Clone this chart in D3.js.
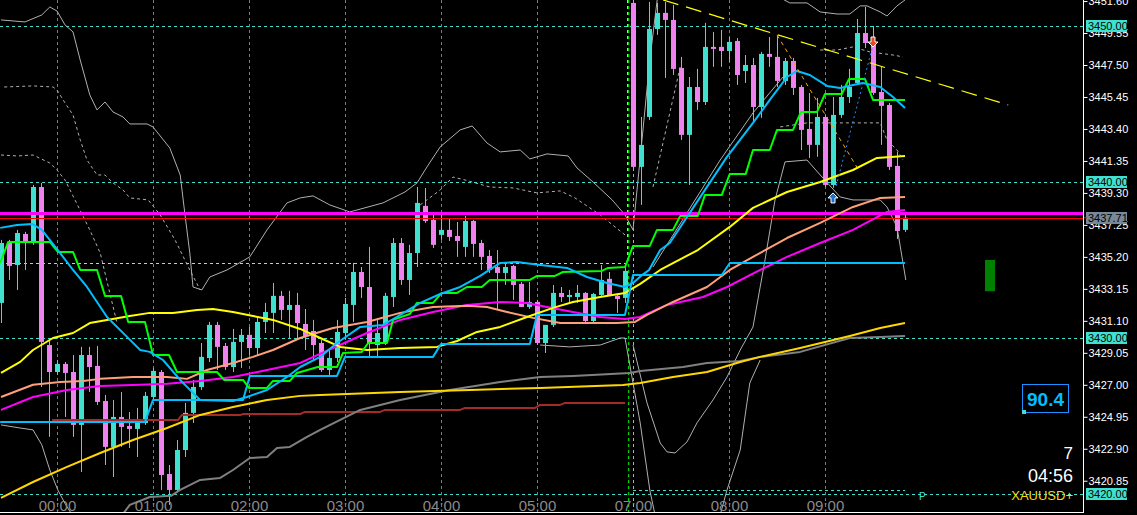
<!DOCTYPE html>
<html><head><meta charset="utf-8">
<script src="https://cdn.jsdelivr.net/npm/d3@7"></script>
<style>html,body{margin:0;padding:0;background:#000;overflow:hidden}</style>
</head><body><svg id="c" width="1137" height="515"></svg>
<script>
// ---------- DATA ----------
const candleOpen = [3432.25,3436.16,3434.68,3436.67,3436.22,3439.68,3429.55,3427.82,3428.34,3427.82,3424.43,3428.91,3428.21,3425.96,3423.02,3424.94,3424.36,3424.17,3424.55,3426.22,3427.82,3421.28,3420.26,3422.82,3425.20,3426.86,3428.72,3430.84,3429.49,3428.14,3429.75,3430.20,3429.36,3431.03,3431.61,3432.70,3431.80,3432.12,3430.90,3430.45,3429.68,3427.95,3428.72,3430.32,3432.12,3434.23,3433.27,3429.55,3429.68,3432.63,3436.09,3433.72,3435.45,3438.47,3437.57,3436.61,3436.93,3436.54,3435.84,3437.50,3436.09,3435.26,3434.55,3434.17,3434.62,3433.47,3431.99,3432.31,3429.68,3430.84,3432.89,3432.63,3432.63,3432.89,3431.09,3432.76,3433.79,3432.70,3432.57,3451.48,3440.97,3444.17,3449.81,3450.84,3450.39,3447.31,3443.02,3446.09,3445.13,3448.66,3448.66,3448.40,3449.04,3447.12,3447.50,3444.81,3448.21,3448.02,3446.48,3447.76,3446.09,3443.40,3442.38,3444.17,3439.81,3444.30,3445.45,3446.35,3449.55,3448.91,3445.77,3444.94,3441.03,3436.93];
const candleHigh = [3436.29,3436.29,3436.93,3436.80,3439.81,3439.94,3429.88,3428.59,3428.46,3428.91,3429.43,3429.43,3429.49,3426.35,3426.03,3426.54,3425.26,3425.52,3426.54,3428.08,3427.95,3421.86,3423.46,3425.84,3427.31,3429.68,3431.03,3431.03,3429.68,3430.58,3430.58,3430.71,3431.35,3432.25,3433.53,3433.02,3433.02,3432.89,3431.86,3431.16,3429.88,3429.23,3431.16,3432.57,3434.81,3434.55,3435.84,3431.16,3432.89,3436.41,3436.41,3435.97,3439.68,3439.62,3438.02,3438.02,3437.63,3437.44,3437.82,3437.57,3436.29,3435.64,3435.64,3434.81,3434.68,3433.59,3433.59,3432.44,3430.84,3433.40,3433.27,3433.08,3433.40,3432.95,3432.89,3434.68,3434.23,3432.82,3434.81,3451.90,3444.17,3451.54,3451.48,3451.54,3451.35,3448.02,3446.73,3447.25,3450.20,3449.62,3449.75,3449.30,3449.23,3448.14,3447.95,3448.34,3449.30,3449.36,3447.95,3447.95,3446.22,3445.71,3445.39,3444.30,3445.45,3446.22,3447.25,3450.45,3451.22,3450.00,3447.38,3445.07,3441.93,3437.89];
const candleLow = [3430.96,3433.72,3433.08,3434.36,3435.97,3426.86,3423.66,3427.63,3424.94,3423.66,3421.41,3426.54,3425.71,3421.86,3421.09,3423.02,3422.95,3422.37,3424.43,3426.03,3420.26,3419.30,3420.13,3422.37,3424.55,3426.67,3428.46,3427.95,3427.95,3427.82,3428.08,3428.91,3428.91,3430.32,3430.32,3431.16,3430.00,3429.88,3429.23,3428.59,3427.82,3427.63,3428.46,3429.88,3431.03,3432.57,3428.79,3428.79,3429.55,3431.99,3433.40,3432.76,3434.55,3437.38,3435.77,3436.29,3436.22,3435.20,3435.20,3435.20,3434.36,3434.17,3431.80,3433.40,3432.44,3431.99,3431.86,3429.55,3429.04,3430.71,3432.31,3432.31,3432.25,3431.03,3431.03,3432.70,3432.70,3431.61,3432.25,3440.77,3438.53,3443.98,3449.43,3446.67,3446.86,3442.70,3439.81,3444.62,3444.94,3447.38,3447.38,3447.70,3446.22,3446.35,3443.79,3444.11,3447.38,3446.09,3446.22,3445.58,3442.05,3441.54,3441.61,3439.68,3439.62,3444.11,3445.07,3446.22,3448.59,3445.58,3442.38,3440.77,3436.35,3436.80];
const candleClose = [3436.09,3434.62,3436.73,3436.22,3439.68,3429.75,3427.82,3428.34,3427.76,3424.43,3428.91,3428.14,3425.90,3423.02,3424.94,3424.30,3424.17,3424.55,3426.29,3427.89,3421.22,3420.26,3422.82,3425.20,3426.86,3428.79,3430.84,3429.43,3428.14,3429.75,3430.20,3429.36,3431.03,3431.67,3432.70,3431.80,3432.12,3430.96,3430.13,3429.55,3427.95,3428.72,3430.39,3432.18,3434.23,3433.27,3429.68,3430.32,3432.70,3436.09,3433.72,3435.45,3438.66,3437.50,3435.97,3436.93,3436.48,3436.22,3437.50,3436.03,3435.20,3434.36,3434.17,3434.55,3433.40,3431.99,3432.31,3429.68,3430.84,3432.89,3432.63,3432.76,3432.89,3431.09,3432.82,3433.72,3432.76,3432.50,3434.30,3440.97,3442.38,3449.81,3450.84,3450.39,3447.25,3443.02,3446.09,3445.13,3448.66,3448.53,3448.40,3448.98,3446.86,3447.50,3444.81,3448.21,3448.02,3446.48,3447.76,3446.03,3443.34,3442.38,3444.17,3439.81,3444.30,3445.45,3446.09,3449.55,3448.91,3445.71,3444.88,3440.97,3436.86,3437.71];

const timeLabels = ["00:00","01:00","02:00","03:00","04:00","05:00","07:00","08:00","09:00"];
const timeLabelIndex = [7,19,31,43,55,67,79,91,103];
const priceTicks = [3451.60,3449.55,3447.50,3445.45,3443.40,3441.35,3439.30,3437.25,3435.20,3433.15,3431.10,3429.05,3427.00,3424.95,3422.90,3420.85];
const levelLines = [3450.00,3440.00,3430.00,3420.00];
const bidPrice = 3437.71;
const magentaLevel = 3437.98;
const boxLevel = 3434.81;

// indicator lines: [candle index, price]
const emaFast = [[-0.1,3437.06],[2,3437.25],[3.9,3437.31],[5.1,3436.93],[7.1,3435.64],[9,3434.36],[10.75,3433.27],[13.25,3431.35],[15.75,3430.07],[17.4,3429.23],[18.6,3429.11],[20.25,3428.59],[22.4,3427.31],[24,3426.48],[24.9,3426.03],[29,3425.96],[30.75,3426.22],[33.25,3426.67],[35.75,3427.50],[37.4,3428.14],[39.9,3428.79],[42,3429.68],[44.9,3430.71],[47.75,3430.84],[49.5,3431.35],[52.4,3432.25],[54.9,3432.82],[57.4,3433.27],[59.9,3433.98],[62.4,3434.81],[64.5,3434.87],[67.4,3434.68],[70.75,3434.49],[73.25,3433.91],[75.75,3433.53],[78,3433.27],[79,3433.53],[80,3433.98],[81,3434.36],[82.4,3435.64],[83.6,3436.09],[87.75,3439.30],[90.75,3441.61],[94,3443.79],[96.1,3445.26],[98.25,3446.73],[99.5,3447.12],[101.1,3446.86],[103.25,3446.16],[104.9,3446.03],[106.5,3446.22],[107.75,3446.35],[109.9,3446.09],[111.5,3445.45],[113,3444.75]];
const kijunGreen = [[-0.1,3434.81],[0.9,3436.16],[6.1,3436.16],[7.1,3435.52],[9,3435.52],[9.9,3434.36],[12,3434.36],[13,3432.70],[15,3432.70],[15.9,3431.03],[18,3431.03],[19,3428.91],[21,3428.91],[22,3427.82],[27,3427.82],[27.9,3427.31],[30.25,3427.31],[31,3426.80],[33.25,3426.80],[34,3427.25],[36.1,3427.25],[37,3427.76],[39.6,3428.14],[42,3428.14],[42.75,3429.04],[45.1,3429.11],[45.9,3429.68],[48.25,3429.68],[49,3431.16],[51.1,3431.54],[52,3432.25],[54,3432.25],[55.1,3432.89],[57,3432.89],[58.25,3433.27],[60.1,3433.27],[61.1,3433.72],[66.1,3433.72],[67,3433.98],[69.25,3433.98],[70.25,3434.23],[75.1,3434.30],[75.9,3434.49],[78,3434.55],[79,3435.90],[81.1,3435.90],[82,3436.93],[84,3436.93],[84.9,3437.82],[87.1,3437.82],[88,3439.17],[90.1,3439.17],[91.1,3440.52],[93.1,3440.52],[94,3442.05],[96.1,3442.05],[97,3443.34],[99,3443.34],[100,3444.49],[102,3444.49],[103,3445.64],[105.1,3445.64],[106,3446.60],[108,3446.60],[109,3445.26],[113,3445.26]];
const maYellow = [[0,3427.76],[2.4,3428.47],[4,3429.23],[6.5,3430.00],[9,3430.32],[11.1,3430.96],[13.25,3431.16],[16.1,3431.41],[18.6,3431.61],[21.5,3431.61],[24.5,3431.80],[26.5,3431.86],[29,3431.67],[31.5,3431.41],[34,3431.16],[37.4,3430.58],[39.9,3430.00],[42.4,3429.43],[45.75,3429.23],[49.9,3429.36],[54.5,3429.43],[57,3429.81],[59.5,3430.39],[62.4,3430.71],[65.75,3431.35],[69,3431.93],[71.5,3432.31],[74.9,3432.63],[78,3432.89],[79.9,3433.47],[82.4,3434.36],[87.1,3435.64],[91.1,3437.12],[94,3438.34],[98.25,3439.36],[102.4,3440.00],[106.5,3440.77],[109.5,3441.54],[113,3441.67]];
const maSalmon = [[0,3426.22],[4,3427.00],[7.4,3427.18],[10.25,3427.25],[12.4,3427.38],[16.5,3427.50],[20.75,3427.50],[23.25,3427.38],[25.75,3427.95],[29,3428.40],[31.5,3428.79],[34,3429.23],[37.4,3430.00],[41.5,3430.64],[45.75,3431.03],[49.9,3431.61],[54,3431.99],[58.25,3432.06],[60.75,3431.99],[63.25,3431.67],[66.5,3431.29],[69.9,3430.96],[73.25,3430.96],[77,3430.96],[79.25,3431.03],[80.75,3431.48],[84,3432.31],[88.25,3433.27],[91.1,3434.36],[94,3435.20],[98.25,3436.41],[102.4,3437.38],[106.5,3438.40],[109.9,3438.98],[113,3439.04]];
const maMagenta = [[0,3425.39],[4,3426.22],[8.25,3426.67],[12.4,3426.93],[16.5,3426.99],[20.75,3427.06],[24.9,3427.25],[29,3427.50],[33.25,3427.95],[37.4,3428.40],[41.5,3429.36],[45.75,3430.32],[49.9,3431.16],[54,3431.67],[58.25,3432.12],[62.4,3432.31],[65.75,3432.25],[68.25,3431.99],[71.5,3431.67],[74.9,3431.35],[78,3431.22],[79.9,3431.35],[83.25,3432.12],[87.75,3432.63],[90.75,3433.27],[94.9,3434.36],[98.25,3435.20],[102.4,3436.09],[106.5,3436.93],[110.75,3438.08],[113,3438.21]];
const stepBlue = [[-0.1,3424.62],[18,3424.62],[19,3426.03],[30.25,3426.03],[31.1,3427.57],[42,3427.57],[43,3428.79],[54,3428.79],[55,3429.62],[66.1,3429.62],[67,3431.48],[78,3431.48],[79,3434.04],[90.1,3434.04],[91.1,3434.81],[113,3434.81]];
const maGold = [[0,3419.75],[4,3420.77],[8.25,3421.74],[12.4,3422.63],[16.5,3423.46],[20.75,3424.23],[24.9,3425.07],[29,3425.58],[33.25,3426.03],[37.4,3426.29],[39.9,3426.35],[49.9,3426.54],[58.6,3426.67],[67.4,3426.80],[77.75,3426.99],[79.9,3427.12],[84,3427.50],[88.25,3427.82],[92.4,3428.46],[94.9,3428.79],[99.9,3429.36],[106.1,3430.13],[109.9,3430.64],[113,3430.96]];
const maGrey = [[12.4,3418.66],[15.25,3418.72],[16.1,3419.30],[18.6,3419.81],[21.25,3419.88],[22.4,3420.26],[24.9,3420.90],[27.4,3421.03],[29,3421.54],[31.1,3422.31],[33.25,3422.37],[34.5,3422.95],[36.1,3423.02],[38.25,3423.66],[39.9,3424.11],[44.9,3425.39],[49.9,3426.03],[56.1,3426.67],[62.4,3427.18],[67.4,3427.50],[71.5,3427.57],[78.6,3427.76],[79.9,3427.89],[85.25,3428.14],[88.25,3428.40],[92.4,3428.53],[94.9,3428.79],[99.9,3429.11],[106.1,3430.00],[109.9,3430.07],[113,3430.13]];
const maBrown = [[0,3424.62],[2.4,3424.62],null,[6.4,3424.74],[22.1,3424.74],[22.6,3425.06],[29.9,3425.06],[30.25,3425.13],[37.4,3425.13],[38,3425.26],[47.4,3425.26],[48,3425.39],[57.4,3425.39],[58,3425.52],[66.75,3425.52],[67.4,3425.71],[69.9,3425.71],[70.5,3425.84],[78,3425.84]];

const bandsSolid = [
 [[0,3450.39],[3,3450.26],[5.1,3450.71],[6.1,3451.22],[7,3450.96],[8,3450.07],[9,3449.62],[9.9,3447.82],[11.1,3445.58],[12,3444.62],[13,3445.13],[14,3444.49],[15.25,3444.17],[16.1,3443.72],[18.25,3443.72],[19,3443.53],[21.1,3442.18],[22.4,3440.45],[23,3437.89],[23.6,3435.45],[24,3433.27],[25.1,3433.08],[26.1,3433.91],[28.25,3434.36],[31.1,3435.20],[33.25,3436.93],[35.75,3438.66],[37.4,3438.98],[39,3439.11],[41.1,3438.53],[43.6,3438.08],[47.75,3438.66],[50.5,3439.36],[52,3439.94],[53.25,3440.97],[54.9,3442.25],[57.4,3443.34],[58.9,3443.59],[60.75,3442.50],[62.4,3441.93],[64.9,3442.05],[66.1,3441.48],[68.25,3441.80],[70.9,3441.67],[72,3440.90],[74,3440.00],[76.4,3438.85],[78,3437.89],[79,3436.93],[80,3442.05],[81.1,3447.82],[82.1,3451.99]],
 [[96.75,3451.99],[98.6,3451.48],[100.75,3451.48],[102.4,3450.90],[104.5,3450.77],[106.1,3450.77],[107.4,3451.29],[108.25,3451.29],[109.9,3450.90],[110.75,3450.64],[112,3451.29],[113,3451.67]],
 [[0,3424.43],[2.4,3424.23],[4,3424.11],[5.1,3423.15],[6.1,3421.54],[7.1,3420.26],[8.1,3419.30],[8.9,3418.66]],
 [[67.4,3429.55],[71.1,3429.43],[74.9,3429.55],[77.4,3430.00],[78,3430.00],[79,3427.12],[79.9,3424.56],[81.1,3420.26],[81.75,3418.66]],
 [[79,3429.55],[80.75,3425.84],[82.4,3423.27],[83.25,3422.70],[84.25,3422.63],[85.75,3423.34],[87,3424.56],[89,3426.03],[90.75,3427.50],[92.4,3429.23],[94,3430.71],[95.5,3435.00],[96.75,3438.85],[98,3441.29],[100.75,3441.41],[102.4,3440.45],[104.9,3439.04],[106.5,3438.85],[109.9,3438.85],[110.75,3438.40],[112,3437.12],[112.75,3434.81],[113.1,3433.72]],
 [[89.9,3418.66],[90.75,3420.26],[92.4,3422.82],[93.6,3427.12],[94.9,3428.59]],
 [[81.5,3434.55],[85.75,3438.02],[89.9,3441.41],[94,3444.43],[97.75,3446.73]]
];
const bandsDashed = [
 [[0.4,3446.09],[4,3446.16],[6.5,3446.09],[7,3445.90],[8,3445.07],[9,3444.30],[9.9,3442.70],[10.75,3441.41],[12,3440.45],[13,3440.45],[14,3439.94],[15.25,3439.49],[16.1,3438.98],[18.4,3438.85],[19.9,3437.89],[21.75,3436.29],[23.6,3434.36],[24.9,3433.08]],
 [[0,3441.73],[2,3441.67],[4,3441.73],[6.1,3441.22],[7,3440.77],[8,3440.13],[9.25,3438.85],[11.1,3436.93],[12.4,3435.45],[14.5,3430.96]],
 [[52.4,3438.53],[54.9,3439.49],[56.5,3440.32],[58,3440.13],[61.1,3439.68],[64,3439.62],[67,3439.30],[69.9,3439.43],[71.75,3438.98],[74.9,3437.89],[78,3436.61]],
 [[97.4,3443.53],[100.75,3443.79],[106.5,3443.79],[109.9,3443.79],[110.75,3442.70],[112,3442.05],[112.75,3441.41]],
 [[102.4,3448.46],[104.5,3448.46],[106.5,3448.66],[108.6,3448.34],[111.5,3448.14],[112.75,3448.02]],
 [[81.5,3439.68],[84.9,3447.38]]
];
const trendLine = [[82.75,3451.67],[125.9,3444.94]];
const zigzagOrange = [[97,3449.43],[107,3440.94]];
const dottedBlue = [[104.4,3439.75],[109,3448.79]];
const rsiValue = "90.4";
const countdown = "04:56";
const barCount = "7";
const symbolName = "XAUUSD+";

// ---------- DRAW ----------
const W = 1137, H = 515, PR = 1083, PB = 512;
const svg = d3.select('#c');
svg.append('rect').attr('width', W).attr('height', H).attr('fill', '#000');
const x = d3.scaleLinear().domain([0, 113]).range([1, 905]);
const y = d3.scaleLinear().domain([3420, 3450]).range([494, 26]);

svg.append('clipPath').attr('id', 'cp').append('rect').attr('x', 0).attr('y', 0).attr('width', PR).attr('height', PB);
const g = svg.append('g').attr('clip-path', 'url(#cp)');

// vertical grid
timeLabelIndex.forEach(k => {
  g.append('line').attr('x1', x(k) + 0.5).attr('x2', x(k) + 0.5).attr('y1', 0).attr('y2', PB)
    .attr('stroke', '#7a7a7a').attr('stroke-dasharray', '3,3');
});
// level lines (cyan dashed)
levelLines.forEach(v => {
  g.append('line').attr('x1', 0).attr('x2', PR).attr('y1', Math.round(y(v)) + 0.5).attr('y2', Math.round(y(v)) + 0.5)
    .attr('stroke', '#40E0D0').attr('stroke-dasharray', '3,3');
});
// session lines
g.append('line').attr('x1', x(79)).attr('x2', x(113)).attr('y1', 490.5).attr('y2', 490.5).attr('stroke', '#40E0D0').attr('stroke-dasharray', '3,3');
g.append('line').attr('x1', 0).attr('x2', x(78.25)).attr('y1', Math.round(y(boxLevel)) + 0.5).attr('y2', Math.round(y(boxLevel)) + 0.5).attr('stroke', '#c8f000').attr('stroke-dasharray', '3,3');
g.append('line').attr('x1', x(78.25) + 0.5).attr('x2', x(78.25) + 0.5).attr('y1', 0).attr('y2', y(boxLevel)).attr('stroke', '#c8f000').attr('stroke-dasharray', '3,3');
g.append('line').attr('x1', x(78.4) + 0.5).attr('x2', x(78.4) + 0.5).attr('y1', 0).attr('y2', PB).attr('stroke', '#00ff00').attr('stroke-dasharray', '3,3');
g.append('line').attr('x1', x(79) + 0.5).attr('x2', x(79) + 0.5).attr('y1', 0).attr('y2', PB).attr('stroke', '#EE82EE').attr('stroke-dasharray', '3,3');

const line = d3.line().defined(d => d !== null).x(d => x(d[0])).y(d => y(d[1]));

// bands
bandsSolid.forEach(b => g.append('path').attr('d', line(b)).attr('fill', 'none').attr('stroke', '#b0b0b0').attr('stroke-width', 1));
bandsDashed.forEach(b => g.append('path').attr('d', line(b)).attr('fill', 'none').attr('stroke', '#b0b0b0').attr('stroke-width', 1).attr('stroke-dasharray', '3,3'));

// candles
const cg = g.append('g');
candleOpen.forEach((o, i) => {
  const c = candleClose[i], bull = c >= o, col = bull ? '#40E0D0' : '#EE82EE';
  const cx = Math.round(x(i));
  cg.append('line').attr('x1', cx + 0.5).attr('x2', cx + 0.5).attr('y1', y(candleHigh[i])).attr('y2', y(candleLow[i])).attr('stroke', col);
  const top = y(Math.max(o, c)), bot = y(Math.min(o, c));
  cg.append('rect').attr('x', cx - 2).attr('y', top).attr('width', 5).attr('height', Math.max(1, bot - top)).attr('fill', col);
});

// horizontal key levels
g.append('line').attr('x1', 0).attr('x2', PR).attr('y1', y(magentaLevel)).attr('y2', y(magentaLevel)).attr('stroke', '#FF00FF').attr('stroke-width', 3);
g.append('line').attr('x1', 0).attr('x2', PR).attr('y1', Math.round(y(bidPrice)) + 0.5).attr('y2', Math.round(y(bidPrice)) + 0.5).attr('stroke', '#FF0000').attr('stroke-width', 1);

// indicator lines
const drawL = (data, col, w) => g.append('path').attr('d', line(data)).attr('fill', 'none').attr('stroke', col).attr('stroke-width', w).attr('stroke-linejoin', 'round');
drawL(maBrown, '#A52A2A', 2);
drawL(maGrey, '#808080', 2);
drawL(maGold, '#FFD700', 2);
drawL(maMagenta, '#FF00FF', 2);
drawL(maSalmon, '#FFA07A', 2);
drawL(maYellow, '#FFFF00', 2);
drawL(stepBlue, '#00BFFF', 2);
drawL(kijunGreen, '#00FF00', 2);
drawL(emaFast, '#00BFFF', 2);

// trend & zigzag
g.append('path').attr('d', line(trendLine)).attr('stroke', '#FFFF00').attr('stroke-width', 1.2).attr('stroke-dasharray', '16,8').attr('fill', 'none');
g.append('path').attr('d', line(zigzagOrange)).attr('stroke', '#FFA500').attr('stroke-width', 1).attr('stroke-dasharray', '4,4').attr('fill', 'none');
g.append('path').attr('d', line(dottedBlue)).attr('stroke', '#1E90FF').attr('stroke-width', 1).attr('stroke-dasharray', '2,3').attr('fill', 'none');

// arrows
const ax = x(104), ay = y(candleLow[104]) + 5;
g.append('path').attr('d', `M${ax},${ay} l5,5 h-3 v5 h-4 v-5 h-3 z`).attr('fill', '#1f6fd0').attr('stroke', '#fff').attr('stroke-width', 1);
const rx = x(109), ry = y(candleOpen[109]) + 4;
g.append('path').attr('d', `M${rx},${ry} l5,-5 h-3 v-5 h-4 v5 h-3 z`).attr('fill', '#e8452a').attr('stroke', '#fff').attr('stroke-width', 1);

// green bar
g.append('rect').attr('x', 985).attr('y', y(3435.0)).attr('width', 10).attr('height', y(3433.0) - y(3435.0)).attr('fill', '#008000');

// P marker
svg.append('text').attr('x', 919).attr('y', 500).attr('fill', '#40E0D0').attr('font-family', 'Liberation Sans, Arial').attr('font-size', 10).text('P');

// axes frame
svg.append('line').attr('x1', 0).attr('x2', PR + 1).attr('y1', PB + 0.5).attr('y2', PB + 0.5).attr('stroke', '#fff');
svg.append('line').attr('x1', PR + 0.5).attr('x2', PR + 0.5).attr('y1', 0).attr('y2', PB).attr('stroke', '#fff');

// Y axis
const yAxis = d3.axisRight(y).tickValues(priceTicks).tickSize(4).tickPadding(1).tickFormat(d => d.toFixed(2));
const ya = svg.append('g').attr('transform', `translate(${PR + 0.5},0)`).call(yAxis);
ya.select('.domain').remove();
ya.selectAll('line').attr('stroke', '#fff');
ya.selectAll('text').attr('fill', '#fff').attr('font-family', "'Liberation Sans Narrow','Liberation Sans',Arial").attr('font-size', 11);

// level labels
const lab = (v, bg) => {
  const yy = Math.round(y(v));
  svg.append('rect').attr('x', PR + 3).attr('y', yy - 6).attr('width', 41).attr('height', 12).attr('fill', bg);
  svg.append('text').attr('x', PR + 5).attr('y', yy + 4).attr('fill', '#000').attr('font-family', "'Liberation Sans Narrow','Liberation Sans',Arial").attr('font-size', 11).text(v.toFixed(2));
};
levelLines.forEach(v => lab(v, '#40E0D0'));
lab(bidPrice, '#778899');
svg.append('line').attr('x1', PR + 1).attr('x2', PR + 4).attr('y1', y(bidPrice)).attr('y2', y(bidPrice)).attr('stroke', '#ff0000');

// X labels
timeLabels.forEach((t, i) => {
  svg.append('text').attr('x', x(timeLabelIndex[i]) + 0.5).attr('y', 511).attr('text-anchor', 'middle')
    .attr('fill', '#8a8a8a').attr('font-family', 'Liberation Sans, Arial').attr('font-size', 15).text(t);
});

// bottom-right info
svg.append('rect').attr('x', 1022.5).attr('y', 384.5).attr('width', 46).attr('height', 28).attr('fill', 'none').attr('stroke', '#1E90FF');
svg.append('text').attr('x', 1045.5).attr('y', 406).attr('text-anchor', 'middle').attr('fill', '#00BFFF').attr('font-weight', 'bold').attr('font-family', 'Liberation Sans, Arial').attr('font-size', 19).text(rsiValue);
svg.append('rect').attr('x', 1022).attr('y', 410).attr('width', 4).attr('height', 4).attr('fill', '#40E0D0');
svg.append('text').attr('x', 1073).attr('y', 459).attr('text-anchor', 'end').attr('fill', '#fff').attr('font-family', 'Liberation Sans, Arial').attr('font-size', 17).text(barCount);
svg.append('text').attr('x', 1073).attr('y', 482).attr('text-anchor', 'end').attr('fill', '#fff').attr('font-family', 'Liberation Sans, Arial').attr('font-size', 18).text(countdown);
svg.append('text').attr('x', 1073).attr('y', 500).attr('text-anchor', 'end').attr('fill', '#FFD700').attr('font-family', 'Liberation Sans, Arial').attr('font-size', 13).text(symbolName);
</script></body></html>
